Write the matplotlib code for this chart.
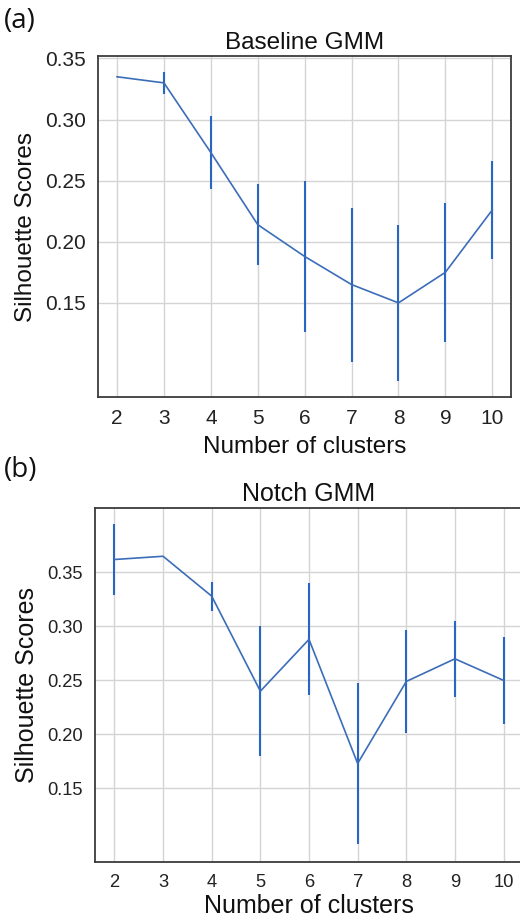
import matplotlib
matplotlib.use("Agg")
import matplotlib.pyplot as plt

# Silhouette scores (mean and spread) per number of GMM clusters
clusters = [2, 3, 4, 5, 6, 7, 8, 9, 10]
baseline_mean = [0.335, 0.330, 0.273, 0.214, 0.188, 0.165, 0.150, 0.175, 0.226]
baseline_err = [0.0, 0.009, 0.030, 0.033, 0.062, 0.063, 0.064, 0.057, 0.040]
notch_mean = [0.362, 0.365, 0.328, 0.240, 0.288, 0.173, 0.249, 0.270, 0.250]
notch_err = [0.033, 0.0, 0.0135, 0.060, 0.052, 0.075, 0.048, 0.035, 0.0405]
score_ticks = [0.15, 0.20, 0.25, 0.30, 0.35]

plt.rcParams["font.family"] = ["Liberation Sans", "DejaVu Sans"]

LINE = "#3b6db8"
BAR = "#2866c2"
GRID = "#d4d4d4"
SPINE = "#3c3c3c"

fig = plt.figure(figsize=(5.2, 9.18), dpi=100)


def panel(rect, means, errs, title, ylim, tick_size, label_size, xpad):
    ax = fig.add_axes(rect)
    ax.errorbar(clusters, means, yerr=errs, color=LINE, lw=1.2,
                ecolor=BAR, elinewidth=1.5, capsize=0, zorder=3)
    ax.set_xlim(1.6, 10.4)
    ax.set_ylim(*ylim)
    ax.set_xticks(clusters)
    ax.set_yticks(score_ticks)
    ax.set_yticklabels([f"{t:.2f}" for t in score_ticks])
    ax.grid(True, color=GRID, lw=1.0)
    ax.set_axisbelow(True)
    for s in ax.spines.values():
        s.set_color(SPINE)
        s.set_linewidth(1.3)
    ax.tick_params(length=0, pad=9, labelsize=tick_size, colors="#222222")
    ax.set_title(title, fontsize=label_size, pad=5, color="#111111")
    ax.set_xlabel("Number of clusters", fontsize=label_size, labelpad=xpad, color="#111111")
    ax.set_ylabel("Silhouette Scores", fontsize=label_size, labelpad=6, color="#111111")
    return ax


panel([98.3 / 520, 1 - 397 / 918, 412.7 / 520, 341 / 918],
      baseline_mean, baseline_err, "Baseline GMM", (0.073, 0.352), 15, 17.5, 5.5)
panel([95 / 520, 1 - 861.7 / 918, 428 / 520, 354 / 918],
      notch_mean, notch_err, "Notch GMM", (0.082, 0.41), 13.2, 18, 2)

fig.text(4 / 520, 1 - 21 / 918, "(a)", family=["Open Sans", "DejaVu Sans"],
         fontsize=20, va="center", ha="left", color="#111111")
fig.text(4 / 520, 1 - 470 / 918, "(b)", family=["Open Sans", "DejaVu Sans"],
         fontsize=20, va="center", ha="left", color="#111111")

fig.savefig("out.png", dpi=100, facecolor="white")
